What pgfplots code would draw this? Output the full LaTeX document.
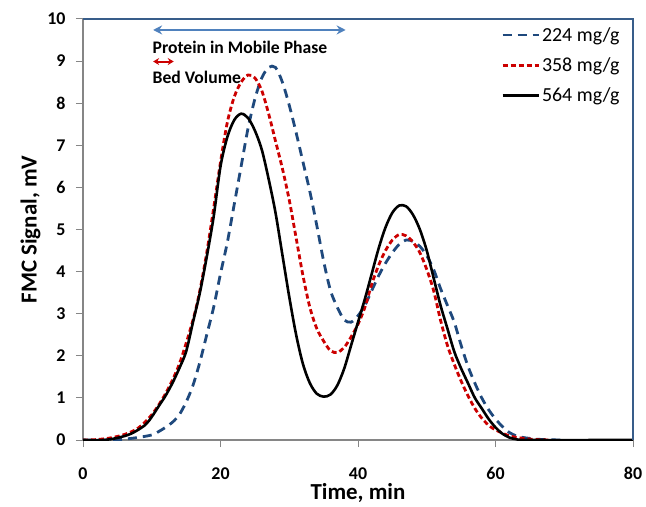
\documentclass[border=0pt]{standalone}
\usepackage{fontspec}
\setmainfont{Carlito}
\usepackage{pgfplots}
\pgfplotsset{compat=1.18}
\usetikzlibrary{arrows.meta}
\definecolor{serblue}{RGB}{31,73,125}
\definecolor{serred}{RGB}{204,0,0}
\definecolor{arrblue}{RGB}{79,129,189}
\definecolor{axgray}{RGB}{134,134,134}
\definecolor{frameblue}{RGB}{56,93,138}

\begin{document}
\begin{tikzpicture}
\begin{axis}[
    scale only axis, width=550bp, height=421bp,
    xmin=0, xmax=80, ymin=0, ymax=10,
    xtick={0,20,...,80}, ytick={0,1,...,10},
    xtick pos=lower, ytick pos=left,
    axis line style={axgray, line width=1.2bp},
    tick style={axgray, line width=1bp},
    tick align=outside, major tick length=7bp,
    ticklabel style={font=\fontsize{18}{20}\selectfont\bfseries},
    xticklabel style={yshift=-17bp},
    yticklabel style={xshift=-7bp},
    /pgf/number format/assume math mode=true,
    xlabel={Time, min}, ylabel={FMC Signal, mV},
    label style={font=\fontsize{23}{26}\selectfont\bfseries},
    xlabel style={yshift=3bp},
    legend style={draw=none, fill=none, at={(0.985,0.99)}, anchor=north east,
        font=\fontsize{20}{23}\selectfont, row sep=11bp},
    legend cell align=left,
    legend image code/.code={\draw[#1] (0bp,0bp) -- (36bp,0bp);},
]
\addplot[serblue, line width=2.8bp, dash pattern=on 9bp off 6bp, smooth] coordinates {
    (0,0)(4,0)(6,0.02)(8,0.06)(10,0.12)(11,0.2)(12,0.3)(13,0.42)(14,0.6)
    (15,0.9)(16,1.3)(17,1.85)(18,2.5)(19,3.15)(20,3.95)(21,4.7)(22,5.6)
    (23,6.5)(24,7.4)(25,8.1)(26,8.6)(27,8.85)(28,8.85)(29,8.5)(30,7.95)
    (31,7.3)(32,6.6)(33,5.9)(34,5.1)(35,4.25)(36,3.55)(37,3.15)(38,2.85)
    (39,2.8)(40,2.95)(41,3.2)(42,3.55)(43,3.9)(44,4.2)(45,4.45)(46,4.65)
    (47,4.75)(48,4.72)(49,4.6)(50,4.38)(51,4.05)(52,3.6)(53,3.2)(54,2.8)
    (55,2.25)(56,1.75)(57,1.35)(58,1.0)(59,0.72)(60,0.5)(61,0.32)(62,0.18)
    (63,0.1)(64,0.06)(66,0.02)(68,0.005)(70,0)
};
\addlegendentry{224 mg/g}
\addplot[serred, line width=2.8bp, dash pattern=on 5bp off 3bp, smooth] coordinates {
    (0,0)(2,0.01)(4,0.05)(6,0.13)(8,0.28)(10,0.6)(12,1.1)(14,1.8)(16,2.85)
    (17,3.55)(18,4.45)(19,5.5)(20,6.6)(21,7.55)(22,8.15)(23,8.5)(24,8.67)
    (25,8.6)(26,8.3)(27,7.75)(28,7.1)(29,6.45)(30,5.7)(31,4.8)(32,3.9)
    (33,3.15)(34,2.65)(35,2.35)(36,2.12)(37,2.08)(38,2.2)(39,2.45)(40,2.75)
    (41,3.15)(42,3.7)(43,4.15)(44,4.5)(45,4.75)(46,4.88)(47,4.85)(48,4.7)
    (49,4.45)(50,4.05)(51,3.55)(52,2.85)(53,2.25)(54,1.8)(55,1.4)(56,1.05)
    (57,0.75)(58,0.52)(59,0.35)(60,0.24)(62,0.1)(64,0.04)(66,0.01)(68,0)
};
\addlegendentry{358 mg/g}
\addplot[black, line width=2.6bp, smooth] coordinates {
    (0,0)(3,0)(5,0.05)(7,0.15)(9,0.35)(10,0.55)(11,0.8)(12,1.05)(13,1.35)
    (14,1.7)(15,2.1)(16,2.8)(17,3.5)(18,4.35)(19,5.3)(20,6.5)(21,7.2)
    (22,7.6)(23,7.75)(24,7.65)(25,7.35)(26,6.9)(27,6.2)(28,5.4)(29,4.4)
    (30,3.4)(31,2.5)(32,1.8)(33,1.35)(34,1.1)(35,1.03)(36,1.08)(37,1.3)
    (38,1.7)(39,2.25)(40,2.8)(41,3.35)(42,3.95)(43,4.55)(44,5.05)(45,5.4)
    (46,5.57)(47,5.55)(48,5.35)(49,5.0)(50,4.5)(51,3.85)(52,3.2)(53,2.65)
    (54,2.1)(55,1.7)(56,1.35)(57,1.0)(58,0.75)(59,0.5)(60,0.3)(61,0.15)
    (62,0.06)(63,0.02)(65,0)(80,0)
};
\addlegendentry{564 mg/g}
% annotations
\draw[arrblue, line width=2bp, {Stealth[length=9bp,width=9bp]}-{Stealth[length=9bp,width=9bp]}]
    (axis cs:10.2,9.74) -- (axis cs:38.2,9.74);
\node[anchor=west, inner sep=0pt, font=\fontsize{17.7}{19}\selectfont\bfseries]
    at (axis cs:10.1,9.33) {Protein in Mobile Phase};
\draw[serred, line width=2bp, {Stealth[length=6bp,width=7bp]}-{Stealth[length=6bp,width=7bp]}]
    (axis cs:10.2,8.99) -- (axis cs:13.2,8.99);
\node[anchor=west, inner sep=0pt, font=\fontsize{17.7}{19}\selectfont\bfseries]
    at (axis cs:10.1,8.62) {Bed Volume};
\end{axis}
\draw[frameblue, line width=1.8bp] (current axis.north west) -- (current axis.north east) -- (current axis.south east);
\path ([shift={(-83bp,-65bp)}]current axis.south west) rectangle ([shift={(13bp,19bp)}]current axis.north east);
\end{tikzpicture}
\end{document}
